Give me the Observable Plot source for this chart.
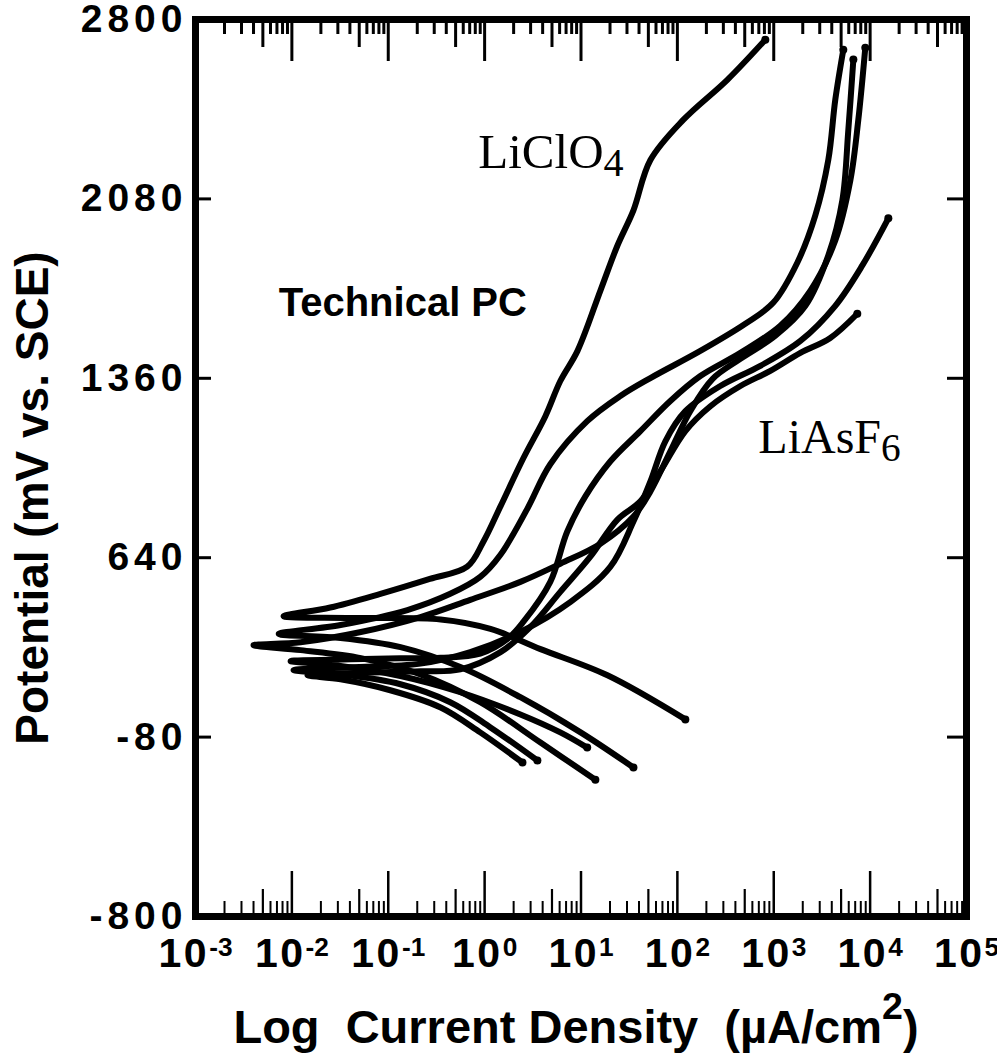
<!DOCTYPE html>
<html>
<head>
<meta charset="utf-8">
<script src="https://cdn.jsdelivr.net/npm/d3@7"></script>
<script src="https://cdn.jsdelivr.net/npm/@observablehq/plot@0.6"></script>
<style>
  html, body { margin: 0; padding: 0; background: #fff; }
  #chart svg { display: block; }
  #chart g[aria-label="x-axis tick label"] text { letter-spacing: 2.5px; }
  #chart g[aria-label="y-axis tick label"] text { letter-spacing: 5px; }
  #chart tspan.script { letter-spacing: 0; }
</style>
</head>
<body>
<div id="chart"></div>
<script>
// Potentiodynamic scans in technical propylene carbonate.
// Current density in µA/cm², potential in mV vs. SCE.
// Each scan runs from its cathodic end, through the corrosion potential, up the anodic branch.

const liClO4Current   = [121, 18.8, 3.8, 1.15, 0.35, 0.041, 0.0082, 0.025, 0.083, 0.27, 0.66, 0.97, 1.46, 2.52, 4.27, 6.1, 9.2, 15.9, 23.9, 35, 52.5, 115, 330, 818];
const liClO4Potential = [-9, 168, 273, 354, 392, 398, 405, 440, 495, 555, 604, 704, 846, 1039, 1208, 1349, 1470, 1712, 1893, 2034, 2236, 2397, 2558, 2719];

const liAsF6Run1Current   = [35, 9.9, 2.35, 0.56, 0.134, 0.032, 0.0073, 0.032, 0.158, 0.44, 0.90, 1.46, 2.78, 4.8, 11.6, 25.6, 52.5, 173, 507, 991, 1760, 2700, 3680, 4350, 5270];
const liAsF6Run1Potential = [-202, -61, 80, 201, 281, 318, 334, 370, 430, 495, 563, 652, 837, 1015, 1188, 1289, 1361, 1470, 1579, 1664, 1825, 2014, 2236, 2478, 2679];

const liAsF6Run2Current   = [14.1, 3.8, 0.90, 0.216, 0.052, 0.0123, 0.004, 0.0123, 0.052, 0.216, 0.71, 2.35, 6.1, 15.9, 35, 52.5, 84.5, 136, 231, 451, 1040, 2130, 3680, 5150, 5940, 6700];
const liAsF6Run2Potential = [-251, -102, 60, 172, 237, 269, 289, 301, 342, 402, 471, 543, 616, 696, 805, 906, 1067, 1228, 1357, 1438, 1531, 1651, 1853, 2075, 2357, 2639];

const liAsF6Run3Current   = [11.6, 6.1, 2.35, 0.56, 0.134, 0.032, 0.0097, 0.041, 0.134, 0.35, 0.90, 1.73, 2.52, 4.8, 7.2, 11.1, 20.2, 41.3, 84.5, 173, 451, 1170, 2400, 4350, 6240, 7540, 8910];
const liAsF6Run3Potential = [-122, -61, 11, 100, 165, 205, 225, 232, 236, 238, 255, 314, 382, 543, 745, 886, 1027, 1148, 1269, 1369, 1462, 1571, 1712, 1913, 2155, 2397, 2687];

const liAsF6Run4Current   = [3.53, 1.15, 0.44, 0.134, 0.032, 0.0104, 0.041, 0.216, 0.71, 2.35, 7.8, 20.2, 35, 52.5, 75, 121, 279, 726, 1890, 4350, 8300, 15450];
const liAsF6Run4Potential = [-174, -41, 60, 132, 172, 189, 200, 215, 261, 342, 463, 604, 785, 946, 1107, 1228, 1329, 1410, 1510, 1651, 1813, 2002];

const liAsF6Run5Current   = [2.47, 0.90, 0.35, 0.105, 0.032, 0.0145, 0.052, 0.216, 0.56, 1.46, 2.99, 6.1, 12.5, 23.9, 41.3, 66.7, 121, 220, 451, 922, 1890, 3860, 7360];
const liAsF6Run5Potential = [-182, -61, 39, 108, 152, 168, 178, 184, 192, 261, 362, 503, 644, 793, 866, 987, 1148, 1248, 1329, 1390, 1462, 1522, 1619];

// Axis ticks
const decadeExponents = [-3, -2, -1, 0, 1, 2, 3, 4, 5];
const minorMultiples = [2, 3, 4, 6, 7, 8, 9];
const potentialTicks = [2800, 2080, 1360, 640, -80, -800];
const innerPotentialTicks = [2080, 1360, 640, -80];

// Text
const xTitle = "Log\u00a0 Current Density\u00a0 (µA/cm^{2})";
const yTitle = "Potential (mV vs. SCE)";
const solventLabel = "Technical PC";
const saltLabels = ["LiClO_{4}", "LiAsF_{6}"];

const scans = [
  {scan: "LiClO4", current: liClO4Current, potential: liClO4Potential},
  {scan: "LiAsF6-1", current: liAsF6Run1Current, potential: liAsF6Run1Potential},
  {scan: "LiAsF6-2", current: liAsF6Run2Current, potential: liAsF6Run2Potential},
  {scan: "LiAsF6-3", current: liAsF6Run3Current, potential: liAsF6Run3Potential},
  {scan: "LiAsF6-4", current: liAsF6Run4Current, potential: liAsF6Run4Potential},
  {scan: "LiAsF6-5", current: liAsF6Run5Current, potential: liAsF6Run5Potential}
];
const rows = scans.flatMap(s => s.current.map((c, i) => ({scan: s.scan, current: c, potential: s.potential[i]})));
const ends = scans.flatMap(s => [0, s.current.length - 1].map(i => ({current: s.current[i], potential: s.potential[i]})));

const decadeTicks = decadeExponents.slice(1, -1).map(n => 10 ** n);
const halfTicks = decadeExponents.slice(0, -1).map(n => 5 * 10 ** n);
const minorTicks = decadeExponents.slice(0, -1).flatMap(n => minorMultiples.map(m => m * 10 ** n));

const W = 997, H = 1060;
const mL = 195, mR = 31, mT = 19, mB = 144;
const frameW = W - mL - mR, frameH = H - mT - mB;
const sans = "'Liberation Sans', Arial, Helvetica, sans-serif";
const serif = "'Liberation Serif', 'Times New Roman', serif";

const svg = Plot.plot({
  width: W,
  height: H,
  marginLeft: mL,
  marginRight: mR,
  marginTop: mT,
  marginBottom: mB,
  style: {fontFamily: sans, background: "#fff", color: "#000", overflow: "visible"},
  x: {type: "log", domain: [1e-3, 1e5]},
  y: {domain: [-800, 2800]},
  marks: [
    // inward ticks on the bottom edge
    Plot.tickX(decadeTicks, {x: d => d, insetTop: frameH - 45, stroke: "#000", strokeWidth: 2.5}),
    Plot.tickX(halfTicks, {x: d => d, insetTop: frameH - 27, stroke: "#000", strokeWidth: 2.2}),
    Plot.tickX(minorTicks, {x: d => d, insetTop: frameH - 15, stroke: "#000", strokeWidth: 2}),
    // inward ticks on the top edge
    Plot.tickX(decadeTicks, {x: d => d, insetBottom: frameH - 42, stroke: "#000", strokeWidth: 3}),
    Plot.tickX(halfTicks, {x: d => d, insetBottom: frameH - 28, stroke: "#000", strokeWidth: 3}),
    Plot.tickX(minorTicks, {x: d => d, insetBottom: frameH - 15, stroke: "#000", strokeWidth: 3}),
    // inward ticks on the left and right edges
    Plot.tickY(innerPotentialTicks, {y: d => d, insetRight: frameW - 16, stroke: "#000", strokeWidth: 3}),
    Plot.tickY(innerPotentialTicks, {y: d => d, insetLeft: frameW - 19, stroke: "#000", strokeWidth: 3}),
    // polarization curves
    Plot.line(rows, {
      x: "current", y: "potential", z: "scan",
      curve: "catmull-rom",
      stroke: "#000", strokeWidth: 6,
      strokeLinecap: "round", strokeLinejoin: "round"
    }),
    Plot.dot(ends, {x: "current", y: "potential", r: 4, fill: "#000"}),
    Plot.frame({stroke: "#000", strokeWidth: 7}),
    // tick labels
    Plot.axisX({
      anchor: "bottom", ticks: decadeExponents.map(n => 10 ** n),
      tickSize: 0, tickPadding: 21, label: null,
      tickFormat: v => `10^{${Math.round(Math.log10(v))}}`,
      fontSize: 41, fontWeight: "bold"
    }),
    Plot.axisY({
      anchor: "left", ticks: potentialTicks,
      tickSize: 0, tickPadding: 8, label: null,
      tickFormat: v => String(v),
      fontSize: 39, fontWeight: "bold"
    }),
    // axis titles
    Plot.text([xTitle], {
      frameAnchor: "bottom", dx: -5, dy: 111, text: d => d,
      fontSize: 47, fontWeight: "bold", lineAnchor: "middle", textAnchor: "middle"
    }),
    Plot.text([yTitle], {
      frameAnchor: "left", dx: -162, dy: 30, rotate: -90, text: d => d,
      fontSize: 46, fontWeight: "bold", lineAnchor: "middle", textAnchor: "middle"
    }),
    // annotations
    Plot.text([solventLabel], {
      x: 0.0073, y: 1611, text: d => d, textAnchor: "start", lineAnchor: "bottom",
      fontSize: 40, fontWeight: "bold"
    }),
    Plot.text([saltLabels[0]], {
      x: 0.86, y: 2204, text: d => d, textAnchor: "start", lineAnchor: "bottom",
      fontFamily: serif, fontSize: 49
    }),
    Plot.text([saltLabels[1]], {
      x: 692, y: 1059, text: d => d, textAnchor: "start", lineAnchor: "bottom",
      fontFamily: serif, fontSize: 48
    })
  ]
});

document.getElementById("chart").append(svg);

// Render ^{…} as superscript and _{…} as subscript.
const scriptStyles = [
  {test: /^10\^/, sup: {scale: 0.64, shift: -0.26}},
  {test: /cm\^/, sup: {scale: 0.8, shift: -0.5}},
  {test: /_\{/, sub: {scale: 0.82, shift: 0.17}}
];
d3.select(svg).selectAll("text").each(function () {
  const content = this.textContent;
  if (!/[\^_]\{/.test(content)) return;
  const style = scriptStyles.find(s => s.test.test(content)) || {};
  const base = parseFloat(getComputedStyle(this).fontSize);
  const parts = content.split(/([\^_]\{[^}]*\})/).filter(p => p.length);
  this.textContent = "";
  let offset = 0;
  for (const part of parts) {
    const m = part.match(/^([\^_])\{([^}]*)\}$/);
    const t = d3.select(this).append("tspan");
    if (m) {
      const cfg = (m[1] === "^" ? style.sup : style.sub) || {scale: 0.65, shift: m[1] === "^" ? -0.4 : 0.2};
      const shift = cfg.shift * base;
      t.attr("class", "script").attr("font-size", base * cfg.scale).attr("dy", shift - offset).text(m[2]);
      offset = shift;
    } else {
      t.attr("dy", -offset).text(part);
      offset = 0;
    }
  }
});
</script>
</body>
</html>
